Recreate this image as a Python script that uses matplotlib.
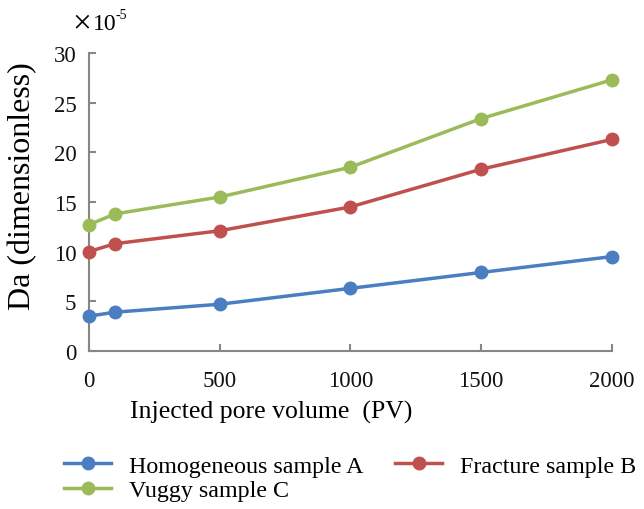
import numpy as np
import matplotlib
matplotlib.use("Agg")
import matplotlib.pyplot as plt

plt.rcParams['font.family'] = ['Liberation Serif', 'DejaVu Serif']

pv = [0, 100, 500, 1000, 1500, 2000]
homogeneous_a = [3.5, 3.9, 4.7, 6.3, 7.9, 9.5]
fracture_b = [10.0, 10.8, 12.1, 14.5, 18.3, 21.3]
vuggy_c = [12.7, 13.8, 15.5, 18.5, 23.4, 27.3]

series = [
    ("Homogeneous sample A", homogeneous_a, "#4A7EC1"),
    ("Fracture sample B", fracture_b, "#C0504D"),
    ("Vuggy sample C", vuggy_c, "#9BBB59"),
]

fig = plt.figure(figsize=(6.44, 5.10), dpi=100)
ax = fig.add_axes([0.138, 0.310, 0.812, 0.584])

lines = {}
for name, vals, col in series:
    lines[name], = ax.plot(pv, vals, color=col, lw=2.5, marker='o', ms=9,
                           label=name, clip_on=False, zorder=3)

ax.set_xlim(0, 2000)
ax.set_ylim(0, 30)
ax.set_xticks([0, 500, 1000, 1500, 2000])
ax.set_yticks(np.arange(0, 31, 5))

for s in ['top', 'right']:
    ax.spines[s].set_visible(False)
for s in ['left', 'bottom']:
    ax.spines[s].set_color('#868686')
    ax.spines[s].set_linewidth(1.5)
ax.tick_params(direction='in', length=5, width=1.5, color='#868686',
               labelsize=16.5, labelcolor='#111111')
ax.tick_params(axis='y', pad=9)
ax.tick_params(axis='x', pad=14)

ax.set_xlabel("Injected pore volume  (PV)", fontsize=18.5)
ax.xaxis.set_label_coords(0.348, -0.165)
ax.set_ylabel("Da (dimensionless)", fontsize=23)
ax.yaxis.set_label_coords(-0.098, 0.557)

# scale factor label
ax.text(-0.032, 1.10, "\u00d7", transform=ax.transAxes,
        fontsize=24, ha='left', va='center')
ax.text(0.007, 1.10, "10", transform=ax.transAxes,
        fontsize=17, ha='left', va='center')
ax.text(0.051, 1.128, "-5", transform=ax.transAxes,
        fontsize=10, ha='left', va='center')

# column-major fill: A, C in first column, B in second
order = ["Homogeneous sample A", "Vuggy sample C", "Fracture sample B"]
fig.legend([lines[k] for k in order], order, loc='upper left',
           bbox_to_anchor=(0.085, 0.125), ncol=2, frameon=False, fontsize=17.3,
           handlelength=1.95, columnspacing=1.35, labelspacing=0.12,
           handletextpad=0.72, borderaxespad=0)

fig.savefig("out.png", dpi=100)
